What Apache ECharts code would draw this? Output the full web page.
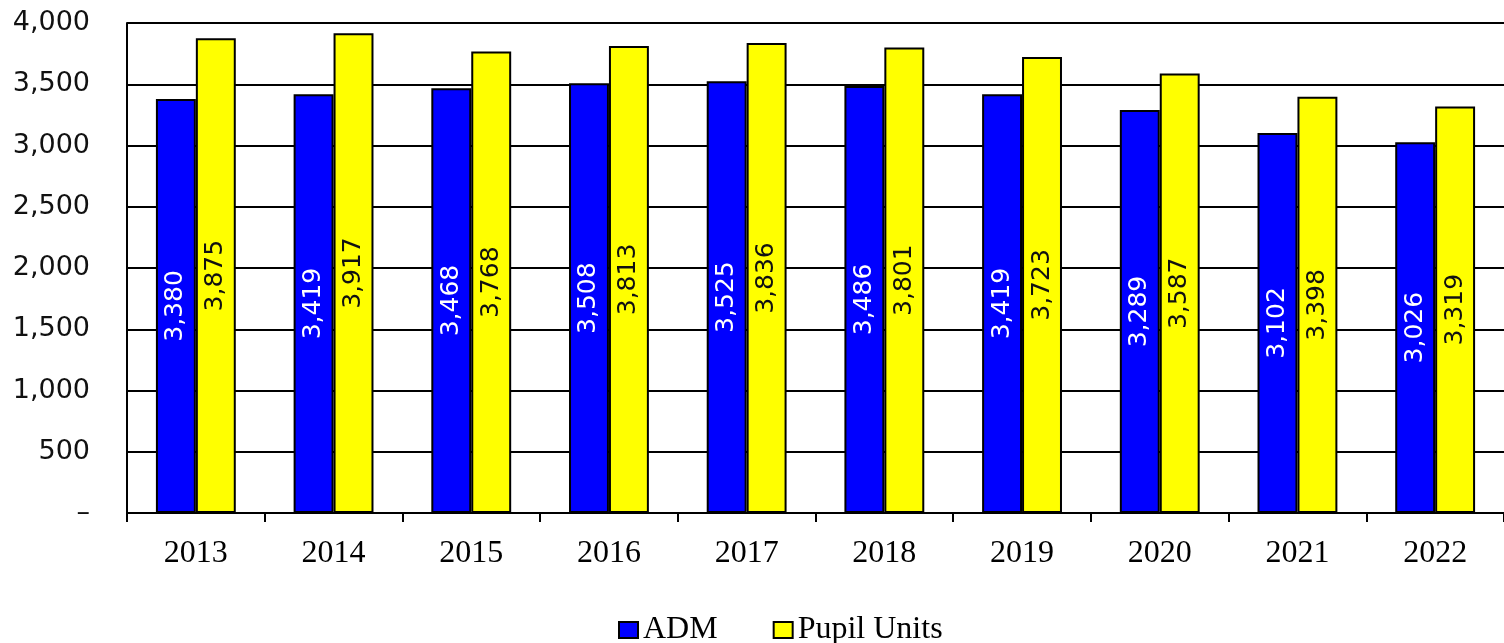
<!DOCTYPE html>
<html>
<head>
<meta charset="utf-8">
<script src="https://cdn.jsdelivr.net/npm/echarts@6/dist/echarts.min.js"></script>
<style>
  html, body { margin: 0; padding: 0; background: #fff; }
  #chart { width: 1504px; height: 643px; }
</style>
</head>
<body>
<div id="chart"></div>
<script>
// years on the x axis
const years = ["2013", "2014", "2015", "2016", "2017", "2018", "2019", "2020", "2021", "2022"];
// series values
const admValues = [3380, 3419, 3468, 3508, 3525, 3486, 3419, 3289, 3102, 3026];
const pupilUnitValues = [3875, 3917, 3768, 3813, 3836, 3801, 3723, 3587, 3398, 3319];

const chart = echarts.init(document.getElementById("chart"));

const fmt = (v) => (v === 0 ? "–" : v.toLocaleString("en-US"));

const option = {
  animation: false,
  grid: { left: 127, right: 0, top: 23, bottom: 130 },
  legend: {
    left: 613,
    top: 609,
    icon: "rect",
    itemWidth: 19,
    itemHeight: 16,
    itemGap: 55,
    textStyle: { fontFamily: "Liberation Serif", fontSize: 32, color: "#000" },
    data: ["ADM", "Pupil Units"],
  },
  xAxis: {
    type: "category",
    data: years,
    axisLine: { lineStyle: { color: "#000", width: 2 } },
    axisTick: { show: true, length: 9, lineStyle: { color: "#000", width: 2 } },
    axisLabel: { margin: 25, fontFamily: "Liberation Serif", fontSize: 32, color: "#000" },
  },
  yAxis: {
    type: "value",
    min: 0,
    max: 4000,
    interval: 500,
    axisLine: { show: true, lineStyle: { color: "#000", width: 2 } },
    axisTick: { show: false },
    splitLine: { lineStyle: { color: "#000", width: 2 } },
    axisLabel: {
      margin: 37,
      fontFamily: "DejaVu Sans",
      fontSize: 27,
      color: "#111",
      formatter: fmt,
    },
  },
  series: [
    {
      name: "ADM",
      type: "bar",
      data: admValues,
      barGap: "0%",
      barCategoryGap: "42%",
      itemStyle: { color: "#0000ff", borderColor: "#000", borderWidth: 2 },
      label: {
        show: true,
        position: "inside",
        rotate: 90,
        fontFamily: "DejaVu Sans",
        fontSize: 25,
        color: "#fff",
        formatter: (p) => fmt(p.value),
      },
    },
    {
      name: "Pupil Units",
      type: "bar",
      data: pupilUnitValues,
      barGap: "0%",
      barCategoryGap: "42%",
      itemStyle: { color: "#ffff00", borderColor: "#000", borderWidth: 2 },
      label: {
        show: true,
        position: "inside",
        rotate: 90,
        fontFamily: "DejaVu Sans",
        fontSize: 25,
        color: "#111",
        formatter: (p) => fmt(p.value),
      },
    },
  ],
};

chart.setOption(option);
</script>
</body>
</html>
